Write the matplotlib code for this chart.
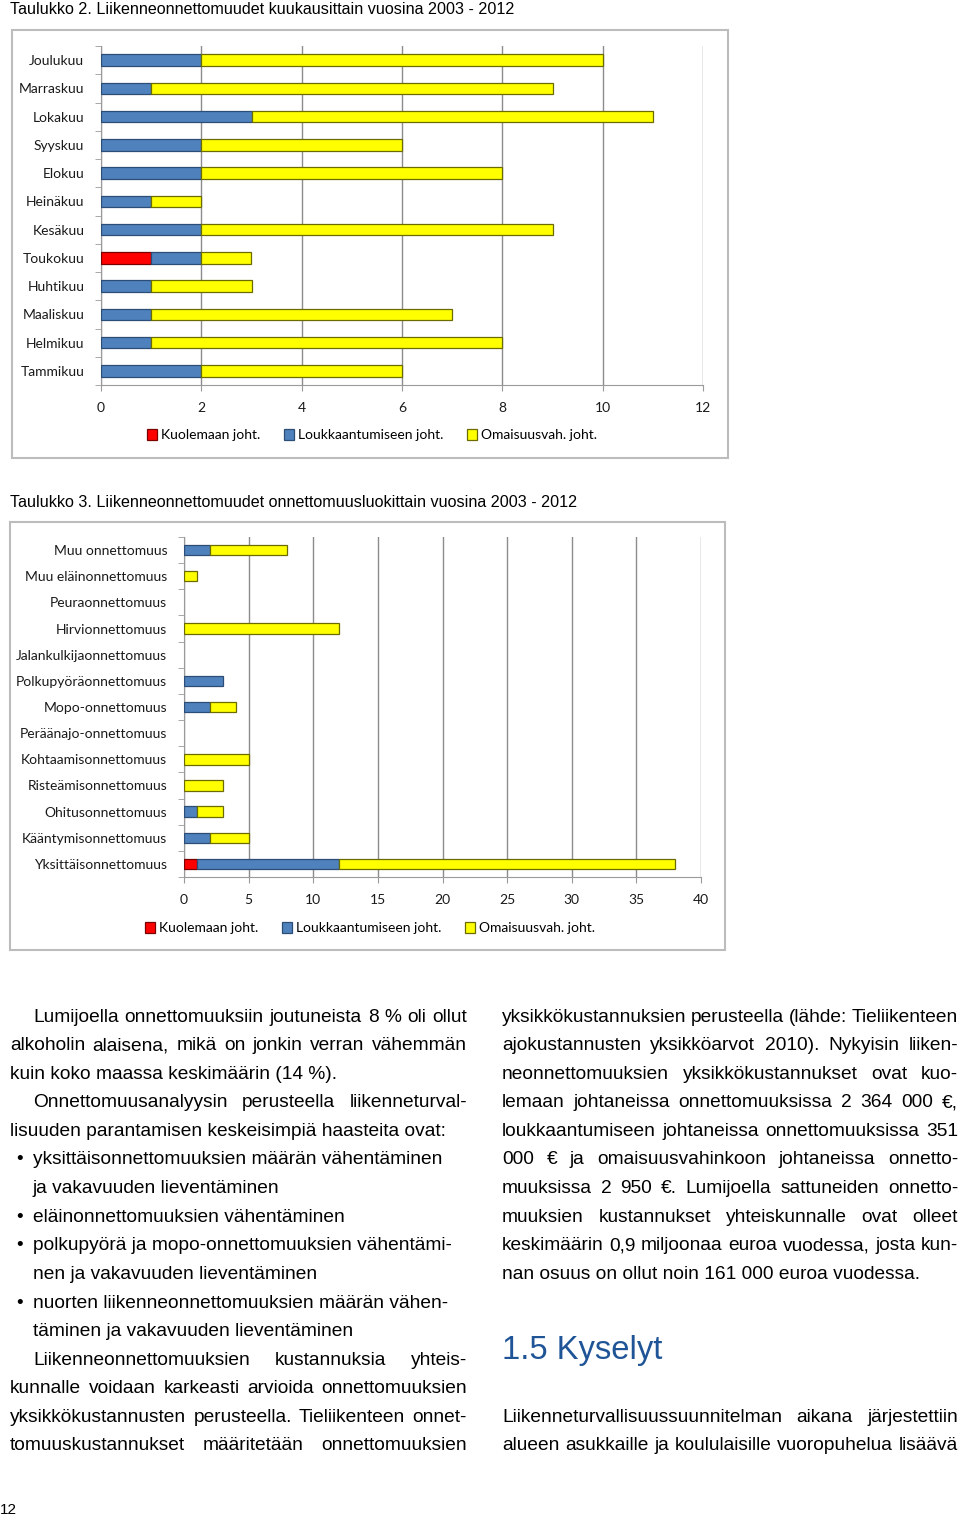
import matplotlib
matplotlib.use("Agg")
import matplotlib.pyplot as plt
import numpy as np
from matplotlib import font_manager
from matplotlib.patches import Rectangle, Patch
from matplotlib.ticker import FixedLocator

W, H = 960, 1516

# ---- data: Taulukko 2 (months, bottom -> top)
months = ["Tammikuu", "Helmikuu", "Maaliskuu", "Huhtikuu", "Toukokuu", "Kesäkuu",
          "Heinäkuu", "Elokuu", "Syyskuu", "Lokakuu", "Marraskuu", "Joulukuu"]
m_death = [0, 0, 0, 0, 1, 0, 0, 0, 0, 0, 0, 0]
m_injury = [2, 1, 1, 1, 1, 2, 1, 2, 2, 3, 1, 2]
m_property = [4, 7, 6, 2, 1, 7, 1, 6, 4, 8, 8, 8]

# ---- data: Taulukko 3 (accident classes, bottom -> top)
classes = ["Yksittäisonnettomuus", "Kääntymisonnettomuus", "Ohitusonnettomuus",
           "Risteämisonnettomuus", "Kohtaamisonnettomuus", "Peräänajo-onnettomuus",
           "Mopo-onnettomuus", "Polkupyöräonnettomuus", "Jalankulkijaonnettomuus",
           "Hirvionnettomuus", "Peuraonnettomuus", "Muu eläinonnettomuus",
           "Muu onnettomuus"]
c_death = [1, 0, 0, 0, 0, 0, 0, 0, 0, 0, 0, 0, 0]
c_injury = [11, 2, 1, 0, 0, 0, 2, 3, 0, 0, 0, 0, 2]
c_property = [26, 3, 2, 3, 5, 0, 2, 0, 0, 12, 0, 1, 6]

series_names = ["Kuolemaan joht.", "Loukkaantumiseen joht.", "Omaisuusvah. joht."]
colors = ["#ff0000", "#4f81bd", "#ffff00"]
edges = ["#7a0000", "#2c4d75", "#6b6b00"]

installed = {f.name for f in font_manager.fontManager.ttflist}
CHART_FONT = "Lato" if "Lato" in installed else "DejaVu Sans"
BODY = "Liberation Sans"
CHART_SIZE = 10

fig = plt.figure(figsize=(W / 100, H / 100), dpi=100)


def fx(x):
    return x / W


def fy(y):
    return 1 - y / H


def stacked_chart(box, axrect, labels, death, injury, prop, xmax, step, legend_xy):
    # grey frame round the chart
    bx0, by0, bx1, by1 = box
    fig.patches.append(Rectangle((fx(bx0), fy(by1)), fx(bx1 - bx0), (by1 - by0) / H,
                                 transform=fig.transFigure, fill=False,
                                 edgecolor="#bcbcbc", linewidth=1.5))
    x0, y0, x1, y1 = axrect
    ax = fig.add_axes([fx(x0), fy(y1), fx(x1 - x0), (y1 - y0) / H])
    ypos = np.arange(len(labels))
    d = np.array(death)
    i = np.array(injury)
    p = np.array(prop)
    for vals, left, c, e in [(d, np.zeros_like(d), colors[0], edges[0]),
                             (i, d, colors[1], edges[1]),
                             (p, d + i, colors[2], edges[2])]:
        keep = vals > 0
        ax.barh(ypos[keep], vals[keep], left=left[keep], height=0.4, color=c,
                edgecolor=e, linewidth=0.9, zorder=3)
    ax.set_xlim(0, xmax)
    ax.set_ylim(-0.5, len(labels) - 0.5)
    ax.set_xticks(np.arange(0, xmax + 1, step))
    ax.set_yticks(ypos)
    ax.set_yticklabels(labels, fontfamily=CHART_FONT, fontsize=CHART_SIZE, color="#1a1a1a")
    ax.yaxis.set_minor_locator(FixedLocator(np.arange(-0.5, len(labels), 1)))
    ax.tick_params(axis="y", which="major", length=0, pad=12)
    ax.tick_params(axis="y", which="minor", length=4, color="#9a9a9a", direction="out")
    ax.tick_params(axis="x", length=4, color="#9a9a9a", pad=8)
    for t in ax.get_xticklabels():
        t.set_fontfamily(CHART_FONT)
        t.set_fontsize(CHART_SIZE)
        t.set_color("#1a1a1a")
    ax.grid(axis="x", color="#8c8c8c", linewidth=1.0, zorder=0)
    for s in ["top", "right"]:
        ax.spines[s].set_visible(False)
    for s in ["left", "bottom"]:
        ax.spines[s].set_color("#9a9a9a")
    handles = [Patch(facecolor=c, edgecolor=e, linewidth=0.9) for c, e in zip(colors, edges)]
    fig.legend(handles, series_names, loc="center", ncol=3,
               bbox_to_anchor=(fx(legend_xy[0]), fy(legend_xy[1])),
               frameon=False, handlelength=0.7, handleheight=0.9, handletextpad=0.3,
               columnspacing=1.7, prop={"family": CHART_FONT, "size": CHART_SIZE})
    return ax


fig.text(fx(10), fy(9), "Taulukko 2. Liikenneonnettomuudet kuukausittain vuosina 2003 - 2012",
         family=BODY, fontsize=11.6, va="center", ha="left")
stacked_chart((12, 30, 728, 458), (101, 46, 703, 385), months,
              m_death, m_injury, m_property, 12, 2, (372, 435))

fig.text(fx(10), fy(502), "Taulukko 3. Liikenneonnettomuudet onnettomuusluokittain vuosina 2003 - 2012",
         family=BODY, fontsize=11.6, va="center", ha="left")
stacked_chart((10, 522, 725, 950), (184, 537, 701, 877), classes,
              c_death, c_injury, c_property, 40, 5, (370, 928))

# ---- body text
BODY_SIZE = 13.8
renderer = fig.canvas.get_renderer()


def put_line(text, x0, x1, y, justify):
    if not justify:
        fig.text(fx(x0), fy(y), text, family=BODY, fontsize=BODY_SIZE, va="center", ha="left")
        return
    words = text.split(" ")
    widths = []
    for w in words:
        t = fig.text(0, 0, w, family=BODY, fontsize=BODY_SIZE)
        widths.append(t.get_window_extent(renderer).width)
        t.remove()
    gap = (x1 - x0 - sum(widths)) / max(len(words) - 1, 1)
    x = x0
    for w, wd in zip(words, widths):
        fig.text(fx(x), fy(y), w, family=BODY, fontsize=BODY_SIZE, va="center", ha="left")
        x += wd + gap


# (text, indent, justified, bullet)
left_lines = [
    ("Lumijoella onnettomuuksiin joutuneista 8 % oli ollut", 23, True, False),
    ("alkoholin alaisena, mikä on jonkin verran vähemmän", 0, True, False),
    ("kuin koko maassa keskimäärin (14 %).", 0, False, False),
    ("Onnettomuusanalyysin perusteella liikenneturval-", 23, True, False),
    ("lisuuden parantamisen keskeisimpiä haasteita ovat:", 0, False, False),
    ("yksittäisonnettomuuksien määrän vähentäminen", 23, False, True),
    ("ja vakavuuden lieventäminen", 23, False, False),
    ("eläinonnettomuuksien vähentäminen", 23, False, True),
    ("polkupyörä ja mopo-onnettomuuksien vähentämi-", 23, False, True),
    ("nen ja vakavuuden lieventäminen", 23, False, False),
    ("nuorten liikenneonnettomuuksien määrän vähen-", 23, False, True),
    ("täminen ja vakavuuden lieventäminen", 23, False, False),
    ("Liikenneonnettomuuksien kustannuksia yhteis-", 23, True, False),
    ("kunnalle voidaan karkeasti arvioida onnettomuuksien", 0, True, False),
    ("yksikkökustannusten perusteella. Tieliikenteen onnet-", 0, True, False),
    ("tomuuskustannukset määritetään onnettomuuksien", 0, True, False),
]
right_lines = [
    ("yksikkökustannuksien perusteella (lähde: Tieliikenteen", True),
    ("ajokustannusten yksikköarvot 2010). Nykyisin liiken-", True),
    ("neonnettomuuksien yksikkökustannukset ovat kuo-", True),
    ("lemaan johtaneissa onnettomuuksissa 2 364 000 €,", True),
    ("loukkaantumiseen johtaneissa onnettomuuksissa 351", True),
    ("000 € ja omaisuusvahinkoon johtaneissa onnetto-", True),
    ("muuksissa 2 950 €. Lumijoella sattuneiden onnetto-", True),
    ("muuksien kustannukset yhteiskunnalle ovat olleet", True),
    ("keskimäärin 0,9 miljoonaa euroa vuodessa, josta kun-", True),
    ("nan osuus on ollut noin 161 000 euroa vuodessa.", False),
]
right_lines2 = [
    ("Liikenneturvallisuussuunnitelman aikana järjestettiin", True),
    ("alueen asukkaille ja koululaisille vuoropuhelua lisäävä", True),
]

LX0, LX1 = 10, 467
RX0, RX1 = 502, 958
line_h = 28.6
for k, (txt, ind, just, bullet) in enumerate(left_lines):
    y = 1017 + k * line_h
    if bullet:
        fig.text(fx(16), fy(y), "•", family=BODY, fontsize=BODY_SIZE, va="center", ha="left")
    put_line(txt, LX0 + ind, LX1, y, just)

for k, (txt, just) in enumerate(right_lines):
    put_line(txt, RX0, RX1, 1017 + k * line_h, just)

fig.text(fx(502), fy(1350), "1.5 Kyselyt", family=BODY, fontsize=23.6,
         color="#1f5597", va="center", ha="left")

for k, (txt, just) in enumerate(right_lines2):
    put_line(txt, RX0, RX1, 1417 + k * line_h, just)

fig.text(fx(0), fy(1510), "12", family=BODY, fontsize=11, va="center", ha="left")

fig.savefig("out.png", dpi=100)
